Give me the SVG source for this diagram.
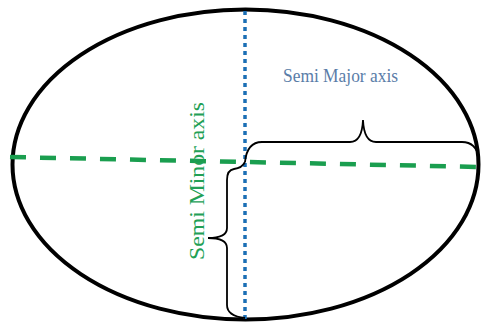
<svg xmlns="http://www.w3.org/2000/svg" width="481" height="323" viewBox="0 0 481 323">
<style>
.ell{fill:none;stroke:#000;stroke-width:4}
.brace{fill:none;stroke:#000;stroke-width:1.8}
.major{stroke:#1a9e4f;stroke-width:4.5;stroke-dasharray:16 14;fill:none}
.minor{stroke:#1b6fb5;stroke-width:3.5;stroke-dasharray:4 4;fill:none}
.t{font-family:"Liberation Serif","Times New Roman",serif}
</style>
<rect width="481" height="323" fill="#fff"/>
<g id="ellipse"><ellipse class="ell" cx="245.5" cy="164.5" rx="233" ry="155"/></g>
<g id="connectors">
<line class="major" x1="10" y1="157" x2="481" y2="167"/>
<line class="minor" x1="245" y1="11" x2="245" y2="320"/>
</g>
<g id="brace-major"><path class="brace" d="M245,162 Q247,142 262,142 L350,142 Q362,142 363,120 Q364,142 376,142 L462,142 Q476,142 479,158"/></g>
<g id="brace-minor"><path class="brace" d="M245,162 Q242,168 234,169 Q227,170 227,180 L227,228 Q227,238 208,238 Q227,238 227,248 L227,305 Q227,316 245,318"/></g>
<g id="label-major"><text class="t" x="283" y="82" font-size="19" fill="#5a7da8" textLength="115" lengthAdjust="spacingAndGlyphs">Semi Major axis</text></g>
<g id="label-minor"><text class="t" transform="translate(204,260) rotate(-90)" font-size="20" fill="#22a055" textLength="158" lengthAdjust="spacingAndGlyphs">Semi Minor axis</text></g>
</svg>
